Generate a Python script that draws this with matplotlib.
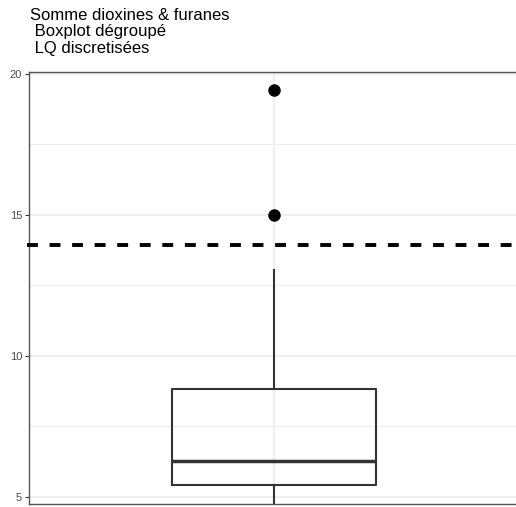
import matplotlib
matplotlib.use("Agg")
import matplotlib.pyplot as plt

plt.rcParams['font.family'] = ['Liberation Sans', 'DejaVu Sans']

# box statistics
q1 = 5.43
median = 6.28
q3 = 8.83
whisker_low = 4.3
whisker_high = 13.05
outliers = [15.0, 19.43]
threshold = 13.94

yticks = [5, 10, 15, 20]
minor_yticks = [7.5, 12.5, 17.5]
title_lines = ["Somme dioxines & furanes", " Boxplot dégroupé", " LQ discretisées"]

W, H = 516, 507
fig = plt.figure(figsize=(W / 100, H / 100), dpi=100)
ax = fig.add_axes([29 / W, 3 / H, 490 / W, 432 / H])

ax.set_xlim(0.4, 1.6)
ax.set_ylim(4.75, 20.07)

# grid
for y in yticks:
    ax.axhline(y, color="#ebebeb", lw=1.1, zorder=0)
for y in minor_yticks:
    ax.axhline(y, color="#ebebeb", lw=0.6, zorder=0)
ax.axvline(1, color="#ebebeb", lw=1.1, zorder=0)

stats = [dict(med=median, q1=q1, q3=q3, whislo=whisker_low, whishi=whisker_high,
              fliers=outliers)]
ax.bxp(stats, positions=[1], widths=0.5, showcaps=False,
       boxprops=dict(color="#333333", lw=1.5),
       whiskerprops=dict(color="#333333", lw=1.5),
       medianprops=dict(color="#333333", lw=2.5),
       flierprops=dict(marker="o", markerfacecolor="black", markeredgecolor="black",
                       markersize=8))

ax.axhline(threshold, color="black", lw=2.8, ls=(0, (2.8, 3.0)), zorder=3,
           clip_on=False, xmin=-0.004)

ax.set_yticks(yticks)
ax.set_yticklabels([str(v) for v in yticks])
ax.set_xticks([])
ax.tick_params(axis="y", length=3, width=0.8, color="#333333", labelcolor="#4d4d4d",
               labelsize=8, pad=2)
for side in ["left", "bottom", "top", "right"]:
    ax.spines[side].set_color("#555555")
    ax.spines[side].set_linewidth(1.0)

for i, line in enumerate(title_lines):
    fig.text(30 / W, 1 - (15 + i * 16.5) / H, line, fontsize=12, va="center",
             ha="left", color="black")

fig.savefig("out.png", dpi=100)
